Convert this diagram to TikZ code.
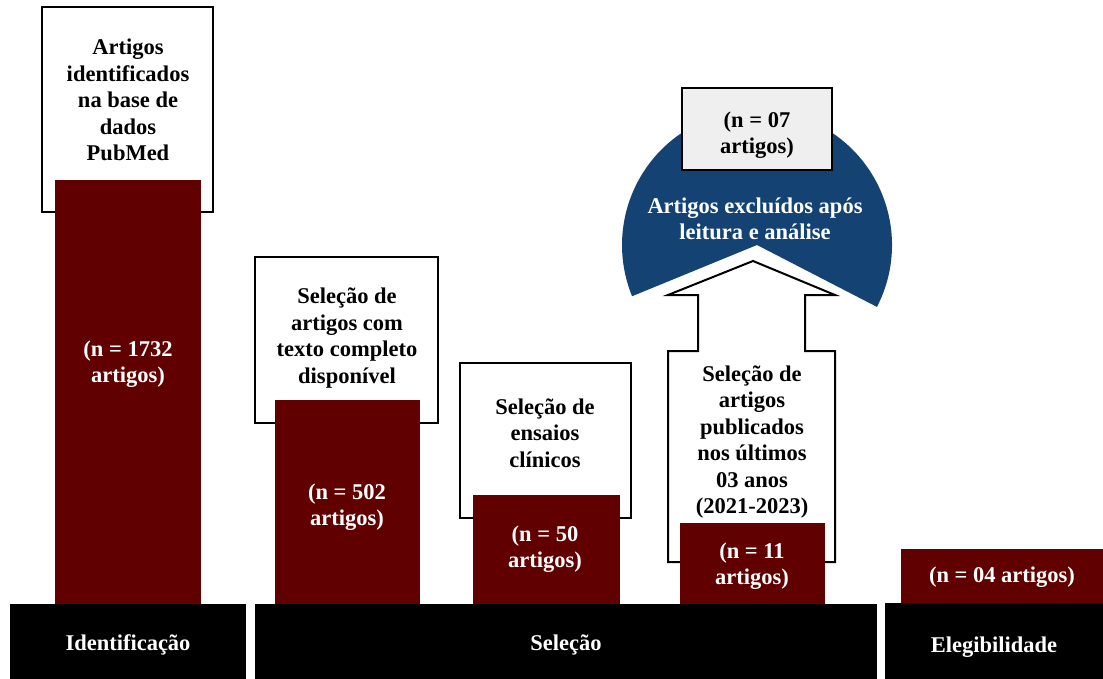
\documentclass[tikz,border=0pt]{standalone}
\usepackage{fontspec}
\setmainfont{Liberation Serif}
\definecolor{barred}{RGB}{96,0,0}
\definecolor{navy}{RGB}{20,67,115}
\definecolor{lgray}{RGB}{239,239,239}
\begin{document}
\begin{tikzpicture}[x=1pt,y=-1pt,
  wbox/.style={draw=black, line width=2pt, fill=white},
  gbox/.style={draw=black, line width=2pt, fill=lgray},
  rbar/.style={fill=barred},
  bbar/.style={fill=black},
  lbl/.style={font=\bfseries\fontsize{22.5}{26.5}\selectfont, align=center, inner sep=0pt, text=black},
  wlbl/.style={lbl, text=white}]
\useasboundingbox (0,0) rectangle (1103,679);
\fill[white] (0,0) rectangle (1103,679);

% column 1
\path[wbox] (42,7) rectangle (213,212);
\path[rbar] (55,180) rectangle (201,604);
\node[lbl] (t1) at (128,100) {Artigos\\identificados\\na base de\\dados\\PubMed};
\node[wlbl] (n1) at (128,364) {(n = 1732\\artigos)};

% column 2
\path[wbox] (255,257) rectangle (438,423);
\path[rbar] (275,400) rectangle (420,604);
\node[lbl] (t2) at (347,338) {Seleção de\\artigos com\\texto completo\\disponível};
\node[wlbl] (n2) at (347,507) {(n = 502\\artigos)};

% column 3
\path[wbox] (460,363) rectangle (631,518);
\path[rbar] (473,495) rectangle (620,604);
\node[lbl] (t3) at (545,433) {Seleção de\\ensaios\\clínicos};
\node[wlbl] (n3) at (545,549) {(n = 50\\artigos)};

% excluded pie
\fill[navy] (757,245) -- +(27.3:135) arc[start angle=27.3, end angle=-202.3, radius=135] -- cycle;
\path[gbox] (682,88) rectangle (832,170);
\node[lbl] (g) at (757,135) {(n = 07\\artigos)};
\node[wlbl] (ex) at (755,219) {Artigos excluídos após\\leitura e análise};

% column 4 arrow
\path[wbox] (753,261) -- (835,295) -- (805,295) -- (805,351) -- (835,351) -- (835,562)
  -- (668,562) -- (668,351) -- (698,351) -- (698,295) -- (668,295) -- cycle;
\path[rbar] (680,523) rectangle (825,604);
\node[lbl] (t4) at (752,442) {Seleção de\\artigos\\publicados\\nos últimos\\03 anos\\(2021-2023)};
\node[wlbl] (n4) at (752,566) {(n = 11\\artigos)};

% column 5
\path[rbar] (901,549) rectangle (1103,603);
\node[wlbl] (n5) at (1002,577) {(n = 04 artigos)};

% phase bars
\path[bbar] (10,604) rectangle (246,679);
\path[bbar] (255,604) rectangle (877,679);
\path[bbar] (885,603) rectangle (1103,679);
\node[wlbl] (p1) at (128,645) {Identificação};
\node[wlbl] (p2) at (566,645) {Seleção};
\node[wlbl] (p3) at (994,647) {Elegibilidade};
\end{tikzpicture}
\end{document}
